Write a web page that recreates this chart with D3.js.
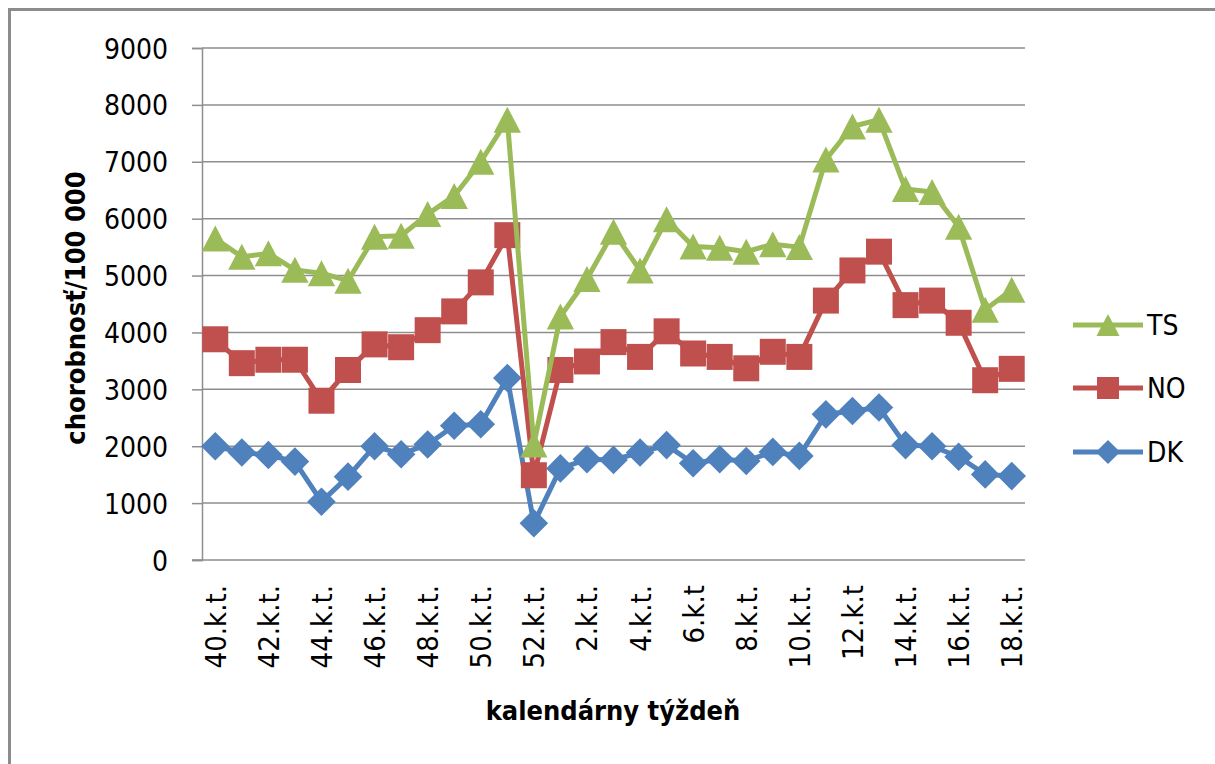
<!DOCTYPE html>
<html lang="sk">
<head>
  <meta charset="UTF-8">
  <title>Chorobnosť podľa kalendárneho týždňa</title>
  <script src="https://d3js.org/d3.v7.min.js"></script>
  <style>
    body { margin: 0; background: #fff; }
    svg text { font-family: "Liberation Sans Narrow", "DejaVu Sans Condensed", Arial, sans-serif; fill: #000; }
  </style>
</head>
<body>
  <div id="chart"></div>
  <script>
    // kalendárne týždne
    const weeks = ["40.k.t.", "41.k.t.", "42.k.t.", "43.k.t.", "44.k.t.", "45.k.t.", "46.k.t.", "47.k.t.",
                   "48.k.t.", "49.k.t.", "50.k.t.", "51.k.t.", "52.k.t.", "1.k.t.", "2.k.t.", "3.k.t.",
                   "4.k.t.", "5.k.t.", "6.k.t", "7.k.t.", "8.k.t.", "9.k.t.", "10.k.t.", "11.k.t.",
                   "12.k.t", "13.k.t.", "14.k.t.", "15.k.t.", "16.k.t.", "17.k.t.", "18.k.t."];

    const tsValues = [5650, 5330, 5390, 5100, 5040, 4910, 5680, 5700, 6080, 6400, 7000, 7740, 2030,
                      4280, 4940, 5770, 5090, 5990, 5510, 5490, 5420, 5550, 5500,
                      7040, 7620, 7740, 6520, 6470, 5860, 4400, 4750];
    const noValues = [3880, 3460, 3520, 3520, 2800, 3340, 3790, 3740, 4040, 4370, 4880, 5710, 1490,
                      3340, 3490, 3830, 3570, 4020, 3630, 3570, 3370, 3660, 3570,
                      4560, 5090, 5420, 4480, 4560, 4170, 3160, 3360];
    const dkValues = [2000, 1890, 1845, 1730, 1025, 1465, 2000, 1860, 2030, 2360, 2385, 3200, 645,
                      1610, 1770, 1760, 1890, 2020, 1700, 1770, 1740, 1900, 1830,
                      2560, 2620, 2680, 2020, 2000, 1815, 1505, 1475];

    const yTicks = [0, 1000, 2000, 3000, 4000, 5000, 6000, 7000, 8000, 9000];

    const series = [
      {name: "TS", values: tsValues, color: "#9BBB59", marker: "triangle"},
      {name: "NO", values: noValues, color: "#C0504D", marker: "square"},
      {name: "DK", values: dkValues, color: "#4F81BD", marker: "diamond"}
    ];

    const W = 1215, H = 764;
    const plot = {left: 202, right: 1025, top: 48, bottom: 560};

    const svg = d3.select("#chart").append("svg")
      .attr("width", W).attr("height", H);

    // rámček grafu
    svg.append("rect").attr("x", 9.5).attr("y", 9.5).attr("width", W + 20).attr("height", H + 20)
      .attr("fill", "none").attr("stroke", "#8c8c8c").attr("stroke-width", 3);

    const x = d3.scaleBand().domain(weeks).range([plot.left, plot.right]).padding(0);
    const y = d3.scaleLinear().domain([0, 9000]).range([plot.bottom, plot.top]);
    const cx = d => x(d) + x.bandwidth() / 2;

    // mriežka
    svg.append("g").selectAll("line").data(yTicks.slice(1)).join("line")
      .attr("x1", plot.left).attr("x2", plot.right)
      .attr("y1", d => y(d)).attr("y2", d => y(d))
      .attr("stroke", "#8e8e8e").attr("stroke-width", 1.5);

    // os Y
    const yAxis = d3.axisLeft(y).tickValues(yTicks).tickFormat(d3.format("d"))
      .tickSize(10).tickPadding(24);
    const gy = svg.append("g").attr("transform", `translate(${plot.left},0)`).call(yAxis);
    gy.select(".domain").attr("stroke", "#8e8e8e").attr("stroke-width", 1.5);
    gy.selectAll(".tick line").attr("stroke", "#8e8e8e").attr("stroke-width", 1.5);
    gy.selectAll("text").style("font-size", "28px").attr("dy", "0.36em");

    // os X
    const xAxis = d3.axisBottom(x).tickSize(0).tickPadding(0)
      .tickFormat((d, i) => i % 2 === 0 ? d : "");
    const gx = svg.append("g").attr("transform", `translate(0,${plot.bottom})`).call(xAxis);
    gx.select(".domain").attr("d", `M${plot.left - 10},0H${plot.right}`)
      .attr("stroke", "#8e8e8e").attr("stroke-width", 1.5);
    gx.selectAll("text")
      .style("font-size", "29px")
      .attr("text-anchor", "end")
      .attr("transform", "rotate(-90)")
      .attr("x", -25).attr("y", 0).attr("dy", "0.36em");

    // popisy osí
    svg.append("text").attr("x", 613).attr("y", 710).attr("text-anchor", "middle")
      .attr("dy", "0.36em").style("font-size", "27px").style("font-weight", "bold")
      .text("kalendárny týždeň");
    svg.append("text").attr("transform", "translate(75,308) rotate(-90)").attr("text-anchor", "middle")
      .attr("dy", "0.36em").style("font-size", "27px").style("font-weight", "bold")
      .text("chorobnosť/100 000");

    const markerPath = (type, s) => {
      if (type === "triangle") return `M0,${-s}L${s * 1.05},${s}L${-s * 1.05},${s}Z`;
      if (type === "square") return `M${-s},${-s}H${s}V${s}H${-s}Z`;
      return `M0,${-s * 1.1}L${s * 1.1},0L0,${s * 1.1}L${-s * 1.1},0Z`;
    };

    const line = d3.line().x((d, i) => cx(weeks[i])).y(d => y(d));

    // poradie kreslenia: DK, NO, TS (TS navrchu)
    series.slice().reverse().forEach(s => {
      const g = svg.append("g");
      g.append("path").datum(s.values).attr("d", line)
        .attr("fill", "none").attr("stroke", s.color).attr("stroke-width", 5)
        .attr("stroke-linejoin", "round");
      g.selectAll("path.m").data(s.values).join("path").attr("class", "m")
        .attr("transform", (d, i) => `translate(${cx(weeks[i])},${y(d)})`)
        .attr("d", markerPath(s.marker, 13))
        .attr("fill", s.color);
    });

    // legenda
    const legendY = [325, 388, 452];
    series.forEach((s, i) => {
      const g = svg.append("g").attr("transform", `translate(1073,${legendY[i]})`);
      g.append("line").attr("x1", 0).attr("x2", 70).attr("stroke", s.color).attr("stroke-width", 5);
      g.append("path").attr("transform", "translate(35,0)").attr("d", markerPath(s.marker, 11))
        .attr("fill", s.color);
      g.append("text").attr("x", 74).attr("dy", "0.36em").style("font-size", "28px").text(s.name);
    });
  </script>
</body>
</html>
